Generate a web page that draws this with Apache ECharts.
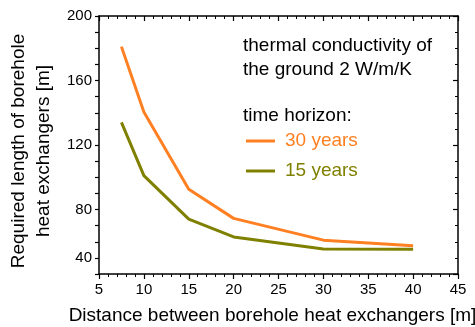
<!DOCTYPE html>
<html>
<head>
<meta charset="utf-8">
<script src="https://cdn.jsdelivr.net/npm/echarts@6/dist/echarts.min.js"></script>
<style>html,body{margin:0;padding:0;background:#fff;}#c{width:475px;height:327px;}</style>
</head>
<body>
<div id="c"></div>
<script>
const distances = [7.5, 10, 15, 20, 30, 40];
const len30 = [181, 140.5, 92.5, 74.5, 61, 57.5];
const len15 = [134, 101, 74, 63, 55.5, 55.3];
const yLabelMap = {200: '200', 160: '160', 120: '120', 80: '80', 50: '40'};
const seriesNames = ['30 years', '15 years'];
const colors = ['#ff8022', '#808000'];
const font = 'Liberation Sans, Arial, Helvetica, sans-serif';

const chart = echarts.init(document.getElementById('c'));
const axisLine = {show: true, lineStyle: {color: '#000', width: 1.5}};
chart.setOption({
  animation: false,
  textStyle: {fontFamily: font},
  grid: {left: 99, right: 17, top: 16, bottom: 53, containLabel: false, outerBoundsMode: 'none'},
  title: [
    {text: 'thermal conductivity of\nthe ground 2 W/m/K', left: 238, top: 29,
     textStyle: {fontSize: 19, fontWeight: 'normal', color: '#000', lineHeight: 24, fontFamily: font}},
    {text: 'time horizon:', left: 238, top: 99,
     textStyle: {fontSize: 19, fontWeight: 'normal', color: '#000', lineHeight: 24, fontFamily: font}}
  ],
  legend: {
    orient: 'vertical', left: 246, top: 131, itemWidth: 29, itemHeight: 3, itemGap: 10,
    icon: 'rect', selectedMode: false, padding: 0,
    textStyle: {fontSize: 19, lineHeight: 20, fontFamily: font, padding: [0, 0, 0, 5]},
    data: seriesNames.map((n, i) => ({name: n, textStyle: {color: colors[i]}}))
  },
  xAxis: [
    {type: 'value', min: 5, max: 45, interval: 5, position: 'bottom',
     name: 'Distance between borehole heat exchangers [m]', nameLocation: 'middle', nameGap: 32,
     nameTextStyle: {fontSize: 19, color: '#000', fontFamily: font, padding: [0, 12, 0, 0]},
     axisLine: axisLine, axisTick: {show: true, inside: false, length: 5, lineStyle: {color: '#000', width: 1.2}},
     minorTick: {show: true, splitNumber: 5, length: 3, lineStyle: {color: '#000', width: 1}},
     axisLabel: {fontSize: 15, color: '#000', margin: 8, fontFamily: font},
     splitLine: {show: false}},
    {type: 'value', min: 5, max: 45, interval: 5, position: 'top',
     axisLine: axisLine, axisTick: {show: true, inside: true, length: 5, lineStyle: {color: '#000', width: 1.2}},
     minorTick: {show: true, splitNumber: 5, length: 3, lineStyle: {color: '#000', width: 1}},
     axisLabel: {show: false}, splitLine: {show: false}}
  ],
  yAxis: [
    {type: 'value', min: 40, max: 200, interval: 10, position: 'left',
     name: 'Required length of borehole\nheat exchangers [m]', nameLocation: 'middle', nameGap: 43,
     nameTextStyle: {fontSize: 19, lineHeight: 25, color: '#000', fontFamily: font, padding: [0, 12, 0, 0]},
     axisLine: axisLine, axisTick: {show: true, inside: false, length: 4, lineStyle: {color: '#000', width: 1.2}},
     axisLabel: {fontSize: 15, color: '#000', margin: 7, fontFamily: font,
                 formatter: v => yLabelMap[v] || ''},
     splitLine: {show: false}},
    {type: 'value', min: 40, max: 200, interval: 40, position: 'right',
     axisLine: axisLine, axisTick: {show: true, inside: true, length: 5, lineStyle: {color: '#000', width: 1.2}},
     minorTick: {show: true, splitNumber: 4, length: 3, lineStyle: {color: '#000', width: 1}},
     axisLabel: {show: false}, splitLine: {show: false}}
  ],
  series: [
    {name: seriesNames[0], type: 'line', xAxisIndex: 0, yAxisIndex: 0, symbol: 'none',
     lineStyle: {color: colors[0], width: 3}, itemStyle: {color: colors[0]},
     data: distances.map((d, i) => [d, len30[i]])},
    {name: seriesNames[1], type: 'line', xAxisIndex: 0, yAxisIndex: 0, symbol: 'none',
     lineStyle: {color: colors[1], width: 3}, itemStyle: {color: colors[1]},
     data: distances.map((d, i) => [d, len15[i]])}
  ]
});
</script>
</body>
</html>
